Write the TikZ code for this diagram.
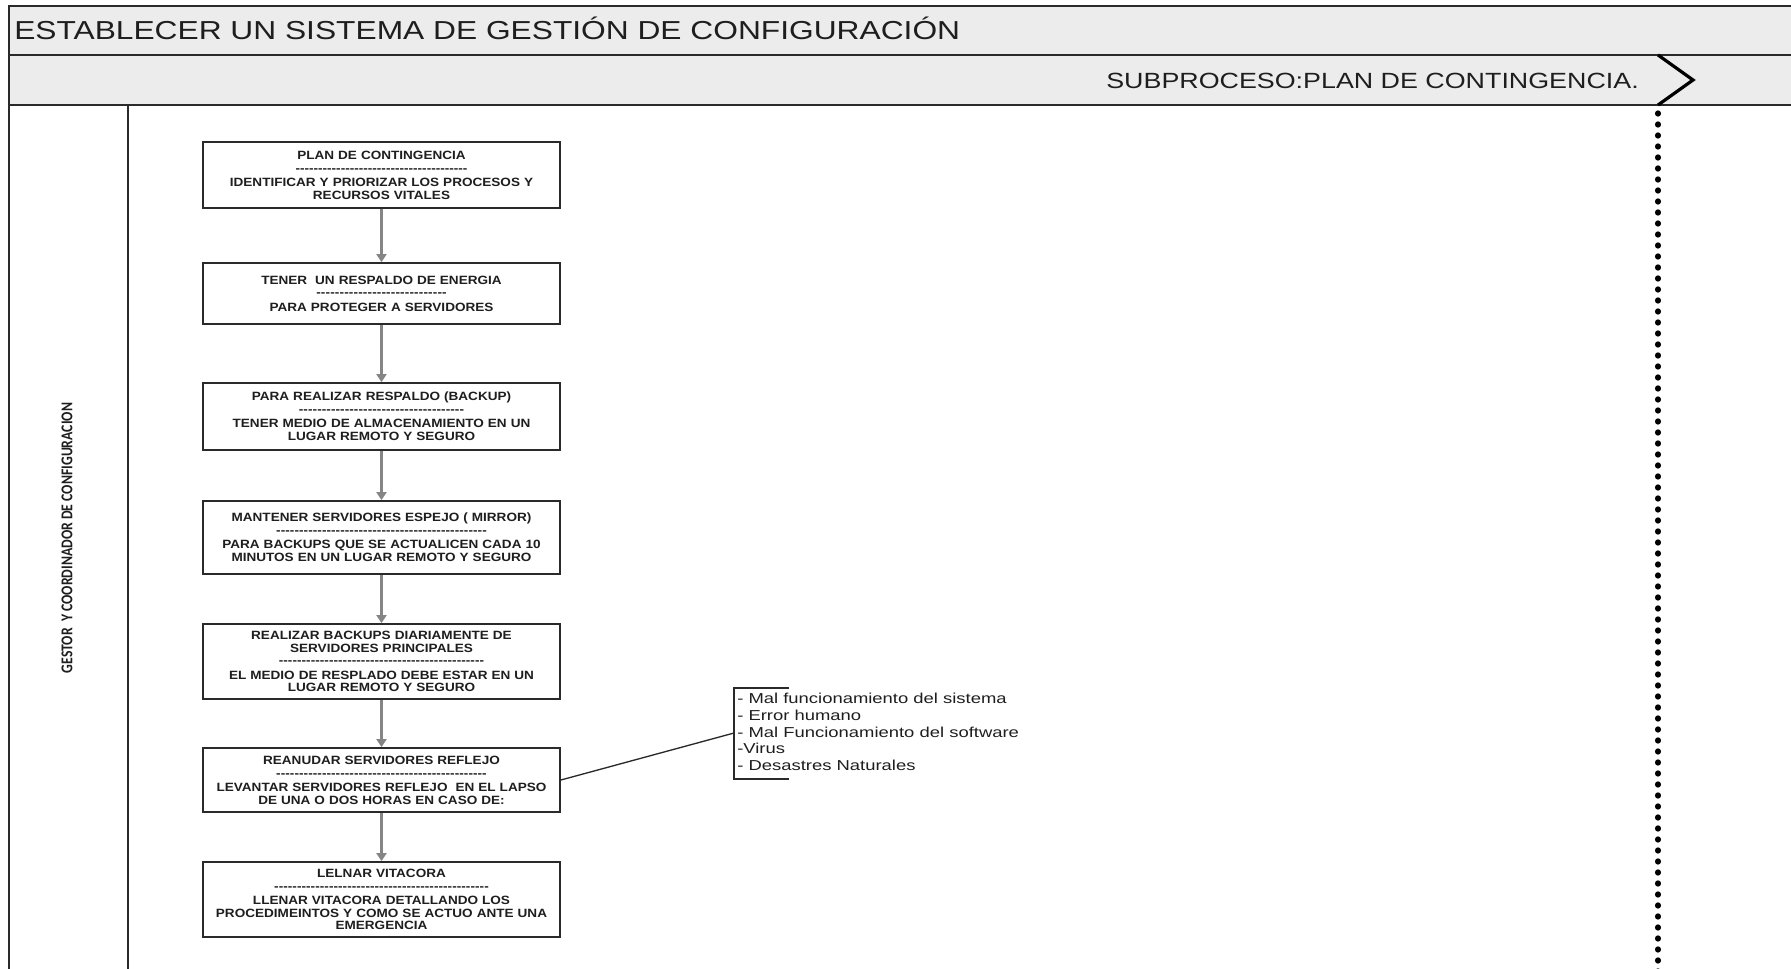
\documentclass[tikz,border=0pt]{standalone}
\usepackage{fontspec}
\usepackage{graphicx}
\usetikzlibrary{arrows.meta}
\newfontfamily\wideR{Liberation Sans}[FakeStretch=1.22]
\newfontfamily\listfont{Liberation Sans}[FakeStretch=1.28]
\newfontfamily\boxfont{Liberation Sans}[FakeStretch=1.13]
\newfontfamily\lanefont{Carlito}
\definecolor{band}{HTML}{ECECEC}
\definecolor{rule}{HTML}{2A2A2A}
\definecolor{flow}{HTML}{858585}
\definecolor{ink}{HTML}{1E1E1E}
% a row of hyphens of a given width
\newcommand\seprule[1]{\leavevmode\hbox to #1{\xleaders\hbox{-}\hfill}}

\begin{document}
\begin{tikzpicture}[x=0.75pt,y=-0.75pt,
  stepbox/.style={draw=rule, line width=1.3pt, fill=white, inner xsep=0pt, inner ysep=0pt,
    text width=267.75pt, align=center, text=ink,
    font=\boxfont\bfseries\fontsize{9}{9.6}\selectfont},
  flowarrow/.style={draw=flow, line width=1.8pt, -{Triangle[length=6pt,width=7.5pt]}},
  frame/.style={draw=rule, line width=1.5pt}]
\useasboundingbox (0,0) rectangle (1791,968);
\clip (0,0) rectangle (1791,968);

% header bands and pool frame
\fill[band] (9,6) rectangle (1800,105);
\draw[frame] (1800,6) -- (9,6) -- (9,975);
\draw[frame] (9,55) -- (1800,55);
\draw[frame] (9,105) -- (1800,105);
\draw[frame] (128,105) -- (128,975);

\node[anchor=base west, inner sep=0, text=ink, font=\wideR\fontsize{19.5}{21}\selectfont]
  (title) at (14,39) {ESTABLECER UN SISTEMA DE GESTIÓN DE CONFIGURACIÓN};
\node[anchor=base east, inner sep=0, text=ink, font=\wideR\fontsize{16.5}{18}\selectfont]
  (sub) at (1639,88) {SUBPROCESO:PLAN DE CONTINGENCIA.};

% phase marker and its dotted boundary
\draw[line width=2.4pt, black, line join=miter] (1658,55) -- (1693,80) -- (1658,105);
\draw[line width=4pt, line cap=round, dash pattern=on 0.7pt off 7.55pt] (1658,113) -- (1658,975);

% lane label
\node[rotate=90, inner sep=0, text=ink, font=\lanefont\bfseries\fontsize{10.3}{12}\selectfont]
  (lane) at (67,538) {\scalebox{1}[1.2]{GESTOR\ \ Y COORDINADOR DE CONFIGURACION}};

% process steps
\node[stepbox, minimum height=49.5pt] (b1) at (381.5,175)
  {PLAN DE CONTINGENCIA\\ \seprule{129pt}\\[1pt] IDENTIFICAR Y PRIORIZAR LOS PROCESOS Y\\ RECURSOS VITALES};
\node[stepbox, minimum height=45.75pt] (b2) at (381.5,293.5)
  {TENER\ \ UN RESPALDO DE ENERGIA\\ \seprule{98pt}\\[1pt] PARA PROTEGER A SERVIDORES};
\node[stepbox, minimum height=50.25pt] (b3) at (381.5,416.5)
  {PARA REALIZAR RESPALDO (BACKUP)\\ \seprule{124pt}\\[1pt] TENER MEDIO DE ALMACENAMIENTO EN UN\\ LUGAR REMOTO Y SEGURO};
\node[stepbox, minimum height=54.75pt] (b4) at (381.5,537.5)
  {MANTENER SERVIDORES ESPEJO ( MIRROR)\\ \seprule{158pt}\\[1pt] PARA BACKUPS QUE SE ACTUALICEN CADA 10\\ MINUTOS EN UN LUGAR REMOTO Y SEGURO};
\node[stepbox, minimum height=56.25pt] (b5) at (381.5,661.5)
  {REALIZAR BACKUPS DIARIAMENTE DE\\ SERVIDORES PRINCIPALES\\ \seprule{154pt}\\[1pt] EL MEDIO DE RESPLADO DEBE ESTAR EN UN\\ LUGAR REMOTO Y SEGURO};
\node[stepbox, minimum height=48pt] (b6) at (381.5,780)
  {REANUDAR SERVIDORES REFLEJO\\ \seprule{158pt}\\[1pt] LEVANTAR SERVIDORES REFLEJO\ \ EN EL LAPSO\\ DE UNA O DOS HORAS EN CASO DE:};
\node[stepbox, minimum height=56.25pt] (b7) at (381.5,899.5)
  {LELNAR VITACORA\\ \seprule{161pt}\\[1pt] LLENAR VITACORA DETALLANDO LOS\\ PROCEDIMEINTOS Y COMO SE ACTUO ANTE UNA\\ EMERGENCIA};

\draw[flowarrow] (b1) -- (b2);
\draw[flowarrow] (b2) -- (b3);
\draw[flowarrow] (b3) -- (b4);
\draw[flowarrow] (b4) -- (b5);
\draw[flowarrow] (b5) -- (b6);
\draw[flowarrow] (b6) -- (b7);

% annotation
\draw[line width=1.1pt, rule] (789,688) -- (734,688) -- (734,779) -- (789,779);
\coordinate (brk) at (734,733);
\draw[line width=1pt, rule] (b6.east) -- (brk);
\node[anchor=north west, align=left, inner sep=0, text=ink, font=\listfont\fontsize{10.8}{12.56}\selectfont]
  (causes) at (737,693) {- Mal funcionamiento del sistema\\- Error humano\\- Mal Funcionamiento del software\\-Virus\\- Desastres Naturales};
\end{tikzpicture}
\end{document}
